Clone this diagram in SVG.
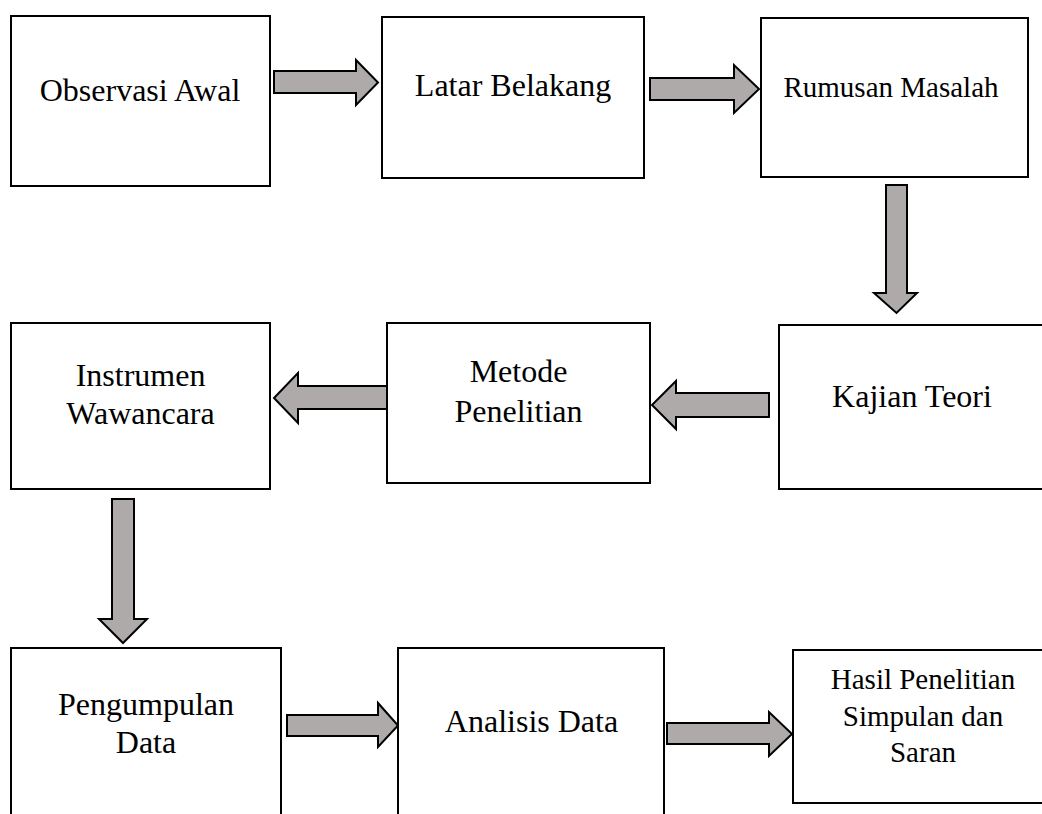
<svg xmlns="http://www.w3.org/2000/svg" width="1042" height="814" viewBox="0 0 1042 814">
<style>
.box{fill:#fff;stroke:#000;stroke-width:2}
.arr{fill:#aeaaaa;stroke:#000;stroke-width:2;stroke-linejoin:miter}
text{font-family:"Liberation Serif","Times New Roman",serif;font-size:32px;fill:#000;text-anchor:middle}
.s{font-size:29px}
</style>
<rect width="1042" height="814" fill="#fff"/>
<g id="connectors">
<polygon class="arr" points="274,71 356,71 356,60 378,82.5 356,105 356,93 274,93"/>
<polygon class="arr" points="650,78 734,78 734,65 759,89 734,113 734,100 650,100"/>
<polygon class="arr" points="886,185 907,185 907,293 917,293 896.5,313 874,293 886,293"/>
<polygon class="arr" points="769,393 769,417 676,417 676,429 652,405 676,381 676,393"/>
<polygon class="arr" points="388,386 388,409 298,409 298,423 274,398 298,373 298,386"/>
<polygon class="arr" points="112,499 134,499 134,619 147,619 123,643 99,619 112,619"/>
<polygon class="arr" points="287,715 378,715 378,703 398,725.5 378,747 378,736 287,736"/>
<polygon class="arr" points="667,723 769,723 769,712 792,734 769,756 769,744 667,744"/>
</g>
<g id="observasi"><rect class="box" x="11" y="16" width="259" height="170"/><text x="140" y="101">Observasi Awal</text></g>
<g id="latar"><rect class="box" x="382" y="17" width="262" height="161"/><text x="513" y="96">Latar Belakang</text></g>
<g id="rumusan"><rect class="box" x="761" y="18" width="267" height="159"/><text class="s" x="891" y="97">Rumusan Masalah</text></g>
<g id="kajian"><rect class="box" x="779" y="325" width="280" height="164"/><text x="912" y="407">Kajian Teori</text></g>
<g id="metode"><rect class="box" x="387" y="323" width="263" height="160"/><text x="518.5" y="382">Metode</text><text x="518.5" y="422">Penelitian</text></g>
<g id="instrumen"><rect class="box" x="11" y="323" width="259" height="166"/><text x="140.5" y="386">Instrumen</text><text x="140.5" y="424">Wawancara</text></g>
<g id="pengumpulan"><rect class="box" x="11" y="648" width="270" height="200"/><text x="146" y="715">Pengumpulan</text><text x="146" y="753">Data</text></g>
<g id="analisis"><rect class="box" x="398" y="648" width="266" height="200"/><text x="531.5" y="732">Analisis Data</text></g>
<g id="hasil"><rect class="box" x="793" y="650" width="270" height="153"/><text class="s" x="923" y="689">Hasil Penelitian</text><text class="s" x="923" y="726">Simpulan dan</text><text class="s" x="923" y="762">Saran</text></g>
</svg>
